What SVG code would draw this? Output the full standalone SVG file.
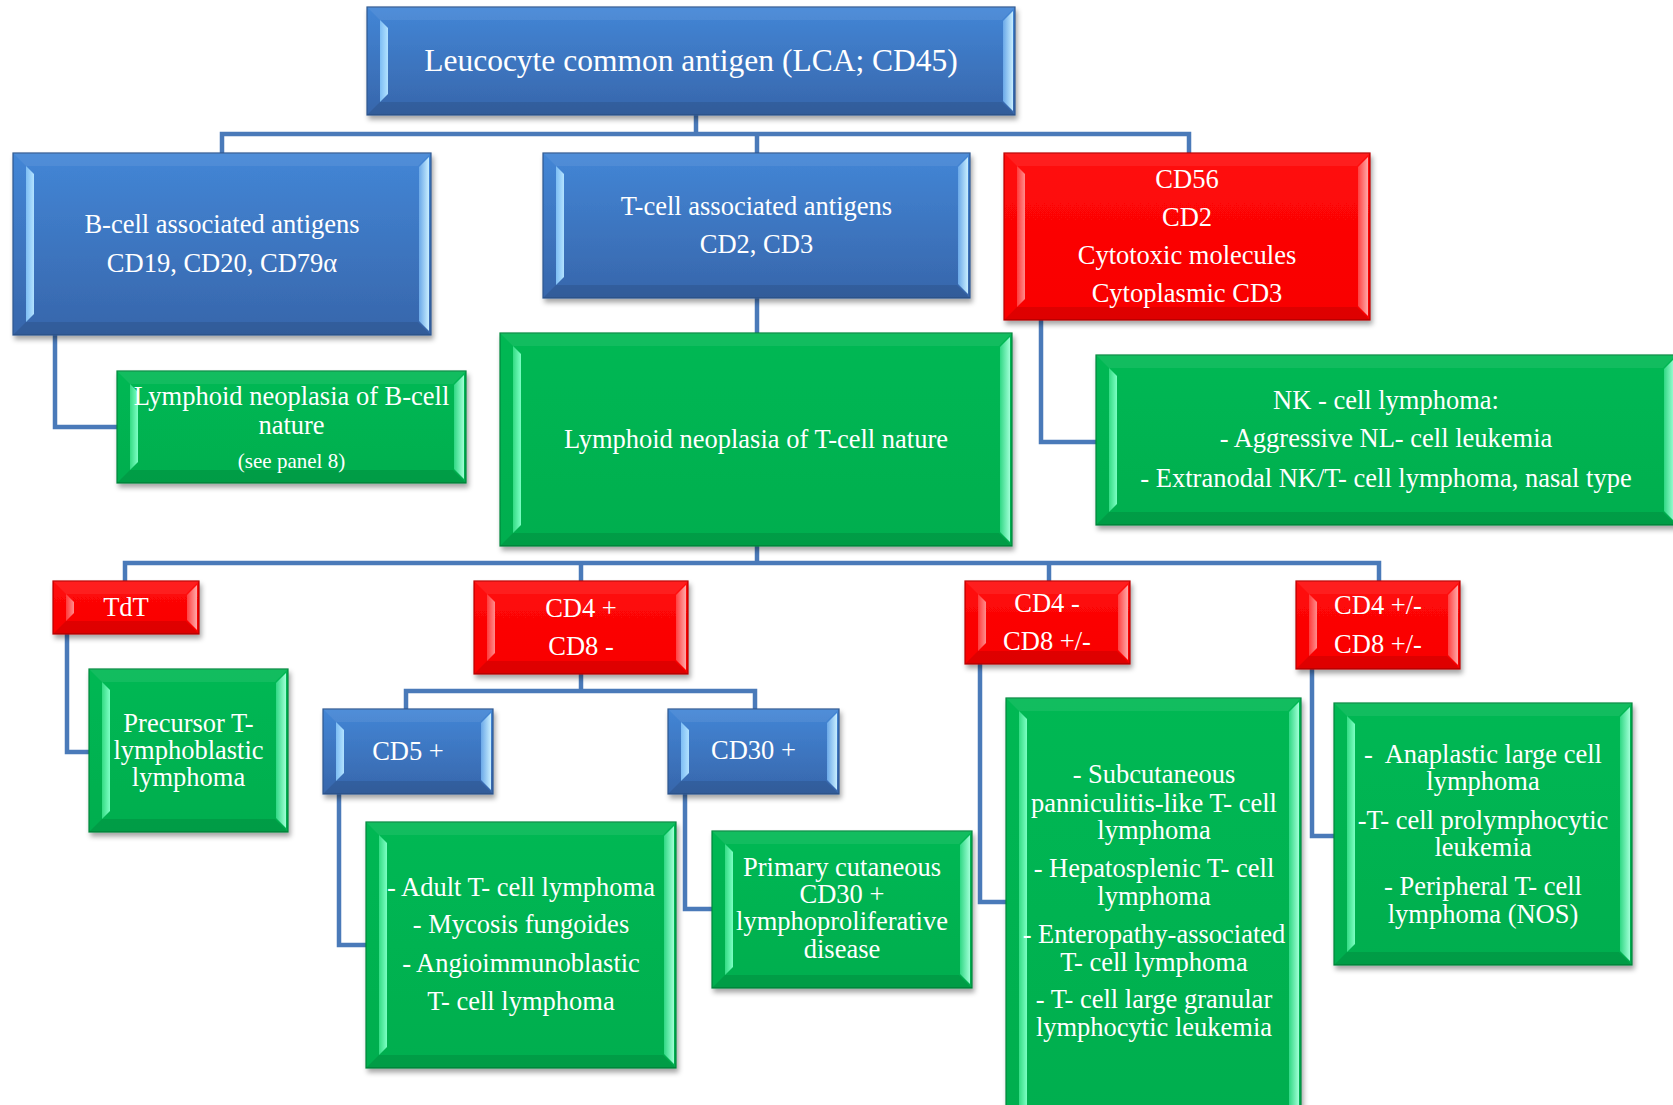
<svg xmlns="http://www.w3.org/2000/svg" width="1673" height="1105" viewBox="0 0 1673 1105">
  <defs>
    <!-- face fills -->
    <linearGradient id="bF" x1="0" y1="0" x2="0" y2="1">
      <stop offset="0" stop-color="#4386d6"/>
      <stop offset="1" stop-color="#3766ab"/>
    </linearGradient>
    <linearGradient id="gF" x1="0" y1="0" x2="0" y2="1">
      <stop offset="0" stop-color="#00b853"/>
      <stop offset="1" stop-color="#00ae4f"/>
    </linearGradient>
    <linearGradient id="rF" x1="0" y1="0" x2="0" y2="1">
      <stop offset="0" stop-color="#ff0a0a"/>
      <stop offset="1" stop-color="#f80000"/>
    </linearGradient>
    <!-- bevel highlight strips -->
    <linearGradient id="bL" x1="0" y1="0" x2="1" y2="0">
      <stop offset="0" stop-color="#7dbdf4"/>
      <stop offset="1" stop-color="#b2e2ff"/>
    </linearGradient>
    <linearGradient id="bR" x1="0" y1="0" x2="1" y2="0">
      <stop offset="0" stop-color="#6aa8e8"/>
      <stop offset="1" stop-color="#c8eeff"/>
    </linearGradient>
    <linearGradient id="gL" x1="0" y1="0" x2="1" y2="0">
      <stop offset="0" stop-color="#34dc84"/>
      <stop offset="1" stop-color="#7dffc4"/>
    </linearGradient>
    <linearGradient id="gR" x1="0" y1="0" x2="1" y2="0">
      <stop offset="0" stop-color="#30d884"/>
      <stop offset="1" stop-color="#a0ffd6"/>
    </linearGradient>
    <linearGradient id="rL" x1="0" y1="0" x2="1" y2="0">
      <stop offset="0" stop-color="#ff3a3a"/>
      <stop offset="1" stop-color="#ff8c8c"/>
    </linearGradient>
    <linearGradient id="rR" x1="0" y1="0" x2="1" y2="0">
      <stop offset="0" stop-color="#ff4040"/>
      <stop offset="1" stop-color="#ffa8a8"/>
    </linearGradient>
    <filter id="sh" x="-5%" y="-5%" width="115%" height="125%">
      <feDropShadow dx="2" dy="4" stdDeviation="2.5" flood-color="#000" flood-opacity="0.35"/>
    </filter>
  </defs>
  <style>
    .face{stroke-width:1.2;filter:url(#sh)}
    .blue .face{fill:url(#bF);stroke:#2c578f}
    .green .face{fill:url(#gF);stroke:#00863c}
    .red .face{fill:url(#rF);stroke:#b80000}
    .tb{fill:#fff;fill-opacity:.07}
    .bb{fill:#000;fill-opacity:.1}
    .blue .sl{fill:url(#bL)} .blue .sr{fill:url(#bR)}
    .green .sl{fill:url(#gL)} .green .sr{fill:url(#gR)}
    .red .sl{fill:url(#rL)} .red .sr{fill:url(#rR)}
    text{font-family:"Liberation Serif","Times New Roman",serif;fill:#fff;text-anchor:middle;font-size:26.5px}
    .tt{font-size:31.5px}
    .ts{font-size:21px}
    .links path{fill:none;stroke:#4a7ab9;stroke-width:4.5;stroke-linejoin:miter}
  </style>
  <rect width="1673" height="1105" fill="#fff"/>

  <!-- connectors -->
  <g class="links">
    <path d="M696,115 V134"/>
    <path d="M222,153 V134 H1189 V153"/>
    <path d="M757,134 V153"/>
    <path d="M55,335 V427 H117"/>
    <path d="M757,298 V333"/>
    <path d="M1041,320 V442 H1096"/>
    <path d="M757,546 V563"/>
    <path d="M125,581 V563 H1379 V581"/>
    <path d="M581,563 V581"/>
    <path d="M1049,563 V581"/>
    <path d="M67,634 V752 H89"/>
    <path d="M581,674 V691"/>
    <path d="M406,709 V691 H755 V709"/>
    <path d="M339,794 V945 H366"/>
    <path d="M685,794 V909 H712"/>
    <path d="M980,664 V902 H1006"/>
    <path d="M1312,669 V836 H1334"/>
  </g>

  <!-- root -->
  <g id="n-lca" class="blue">
    <rect class="face" x="367" y="7" width="648" height="108"/>
    <polygon class="tb" points="367,7 1015,7 1002,20 380,20"/>
    <polygon class="bb" points="367,115 1015,115 1002,102 380,102"/>
    <polygon class="sl" points="380,20 388,28 388,94 380,102"/>
    <polygon class="sr" points="1003,21 1013,11 1013,111 1003,101"/>
    <text class="tt" x="691" y="71">Leucocyte common antigen (LCA; CD45)</text>
  </g>

  <g id="n-bcell" class="blue">
    <rect class="face" x="13" y="153" width="418" height="182"/>
    <polygon class="tb" points="13,153 431,153 418,166 26,166"/>
    <polygon class="bb" points="13,335 431,335 418,322 26,322"/>
    <polygon class="sl" points="26,166 34,174 34,314 26,322"/>
    <polygon class="sr" points="419,167 429,157 429,331 419,321"/>
    <text x="222" y="233">B-cell associated antigens</text>
    <text x="222" y="272">CD19, CD20, CD79α</text>
  </g>

  <g id="n-tcell" class="blue">
    <rect class="face" x="543" y="153" width="427" height="145"/>
    <polygon class="tb" points="543,153 970,153 957,166 556,166"/>
    <polygon class="bb" points="543,298 970,298 957,285 556,285"/>
    <polygon class="sl" points="556,166 564,174 564,277 556,285"/>
    <polygon class="sr" points="958,167 968,157 968,294 958,284"/>
    <text x="756.5" y="215">T-cell associated antigens</text>
    <text x="756.5" y="253">CD2, CD3</text>
  </g>

  <g id="n-nkmark" class="red">
    <rect class="face" x="1004" y="153" width="366" height="167"/>
    <polygon class="tb" points="1004,153 1370,153 1357,166 1017,166"/>
    <polygon class="bb" points="1004,320 1370,320 1357,307 1017,307"/>
    <polygon class="sl" points="1017,166 1025,174 1025,299 1017,307"/>
    <polygon class="sr" points="1358,167 1368,157 1368,316 1358,306"/>
    <text x="1187" y="188">CD56</text>
    <text x="1187" y="226">CD2</text>
    <text x="1187" y="264">Cytotoxic molecules</text>
    <text x="1187" y="302">Cytoplasmic CD3</text>
  </g>

  <g id="n-bneo" class="green">
    <rect class="face" x="117" y="371" width="349" height="112"/>
    <polygon class="tb" points="117,371 466,371 453,384 130,384"/>
    <polygon class="bb" points="117,483 466,483 453,470 130,470"/>
    <polygon class="sl" points="130,384 138,392 138,462 130,470"/>
    <polygon class="sr" points="454,385 464,375 464,479 454,469"/>
    <text x="291.5" y="405">Lymphoid neoplasia of B-cell</text>
    <text x="291.5" y="434">nature</text>
    <text class="ts" x="291.5" y="468">(see panel 8)</text>
  </g>

  <g id="n-tneo" class="green">
    <rect class="face" x="500" y="333" width="512" height="213"/>
    <polygon class="tb" points="500,333 1012,333 999,346 513,346"/>
    <polygon class="bb" points="500,546 1012,546 999,533 513,533"/>
    <polygon class="sl" points="513,346 521,354 521,525 513,533"/>
    <polygon class="sr" points="1000,347 1010,337 1010,542 1000,532"/>
    <text x="756" y="448">Lymphoid neoplasia of T-cell nature</text>
  </g>

  <g id="n-nk" class="green">
    <rect class="face" x="1096" y="355" width="580" height="170"/>
    <polygon class="tb" points="1096,355 1676,355 1663,368 1109,368"/>
    <polygon class="bb" points="1096,525 1676,525 1663,512 1109,512"/>
    <polygon class="sl" points="1109,368 1117,376 1117,504 1109,512"/>
    <polygon class="sr" points="1664,369 1674,359 1674,521 1664,511"/>
    <text x="1386" y="409">NK - cell lymphoma:</text>
    <text x="1386" y="447">- Aggressive NL- cell leukemia</text>
    <text x="1386" y="487">- Extranodal NK/T- cell lymphoma, nasal type</text>
  </g>

  <g id="n-tdt" class="red">
    <rect class="face" x="53" y="581" width="146" height="53"/>
    <polygon class="tb" points="53,581 199,581 186,594 66,594"/>
    <polygon class="bb" points="53,634 199,634 186,621 66,621"/>
    <polygon class="sl" points="66,594 74,602 74,613 66,621"/>
    <polygon class="sr" points="187,595 197,585 197,630 187,620"/>
    <text x="126" y="616">TdT</text>
  </g>

  <g id="n-cd4p" class="red">
    <rect class="face" x="474" y="581" width="214" height="93"/>
    <polygon class="tb" points="474,581 688,581 675,594 487,594"/>
    <polygon class="bb" points="474,674 688,674 675,661 487,661"/>
    <polygon class="sl" points="487,594 495,602 495,653 487,661"/>
    <polygon class="sr" points="676,595 686,585 686,670 676,660"/>
    <text x="581" y="617">CD4 +</text>
    <text x="581" y="655">CD8 -</text>
  </g>

  <g id="n-cd4m" class="red">
    <rect class="face" x="965" y="581" width="165" height="83"/>
    <polygon class="tb" points="965,581 1130,581 1117,594 978,594"/>
    <polygon class="bb" points="965,664 1130,664 1117,651 978,651"/>
    <polygon class="sl" points="978,594 986,602 986,643 978,651"/>
    <polygon class="sr" points="1118,595 1128,585 1128,660 1118,650"/>
    <text x="1047" y="612">CD4 -</text>
    <text x="1047" y="650">CD8 +/-</text>
  </g>

  <g id="n-cd4pm" class="red">
    <rect class="face" x="1296" y="581" width="164" height="88"/>
    <polygon class="tb" points="1296,581 1460,581 1447,594 1309,594"/>
    <polygon class="bb" points="1296,669 1460,669 1447,656 1309,656"/>
    <polygon class="sl" points="1309,594 1317,602 1317,648 1309,656"/>
    <polygon class="sr" points="1448,595 1458,585 1458,665 1448,655"/>
    <text x="1378" y="614">CD4 +/-</text>
    <text x="1378" y="653">CD8 +/-</text>
  </g>

  <g id="n-precursor" class="green">
    <rect class="face" x="89" y="669" width="199" height="163"/>
    <polygon class="tb" points="89,669 288,669 275,682 102,682"/>
    <polygon class="bb" points="89,832 288,832 275,819 102,819"/>
    <polygon class="sl" points="102,682 110,690 110,811 102,819"/>
    <polygon class="sr" points="276,683 286,673 286,828 276,818"/>
    <text x="188.5" y="732">Precursor T-</text>
    <text x="188.5" y="759">lymphoblastic</text>
    <text x="188.5" y="786">lymphoma</text>
  </g>

  <g id="n-cd5" class="blue">
    <rect class="face" x="323" y="709" width="170" height="85"/>
    <polygon class="tb" points="323,709 493,709 480,722 336,722"/>
    <polygon class="bb" points="323,794 493,794 480,781 336,781"/>
    <polygon class="sl" points="336,722 344,730 344,773 336,781"/>
    <polygon class="sr" points="481,723 491,713 491,790 481,780"/>
    <text x="408" y="760">CD5 +</text>
  </g>

  <g id="n-cd30" class="blue">
    <rect class="face" x="668" y="709" width="171" height="85"/>
    <polygon class="tb" points="668,709 839,709 826,722 681,722"/>
    <polygon class="bb" points="668,794 839,794 826,781 681,781"/>
    <polygon class="sl" points="681,722 689,730 689,773 681,781"/>
    <polygon class="sr" points="827,723 837,713 837,790 827,780"/>
    <text x="753.5" y="759">CD30 +</text>
  </g>

  <g id="n-adult" class="green">
    <rect class="face" x="366" y="822" width="310" height="246"/>
    <polygon class="tb" points="366,822 676,822 663,835 379,835"/>
    <polygon class="bb" points="366,1068 676,1068 663,1055 379,1055"/>
    <polygon class="sl" points="379,835 387,843 387,1047 379,1055"/>
    <polygon class="sr" points="664,836 674,826 674,1064 664,1054"/>
    <text x="521" y="896">- Adult T- cell lymphoma</text>
    <text x="521" y="933">- Mycosis fungoides</text>
    <text x="521" y="972">- Angioimmunoblastic</text>
    <text x="521" y="1010">T- cell lymphoma</text>
  </g>

  <g id="n-primary" class="green">
    <rect class="face" x="712" y="831" width="260" height="157"/>
    <polygon class="tb" points="712,831 972,831 959,844 725,844"/>
    <polygon class="bb" points="712,988 972,988 959,975 725,975"/>
    <polygon class="sl" points="725,844 733,852 733,967 725,975"/>
    <polygon class="sr" points="960,845 970,835 970,984 960,974"/>
    <text x="842" y="876">Primary cutaneous</text>
    <text x="842" y="903">CD30 +</text>
    <text x="842" y="930">lymphoproliferative</text>
    <text x="842" y="958">disease</text>
  </g>

  <g id="n-subcut" class="green">
    <rect class="face" x="1006" y="698" width="295" height="430"/>
    <polygon class="tb" points="1006,698 1301,698 1288,711 1019,711"/>
    <polygon class="bb" points="1006,1128 1301,1128 1288,1115 1019,1115"/>
    <polygon class="sl" points="1019,711 1027,719 1027,1107 1019,1115"/>
    <polygon class="sr" points="1289,712 1299,702 1299,1124 1289,1114"/>
    <text x="1154" y="783">- Subcutaneous</text>
    <text x="1154" y="812">panniculitis-like T- cell</text>
    <text x="1154" y="839">lymphoma</text>
    <text x="1154" y="877">- Hepatosplenic T- cell</text>
    <text x="1154" y="905">lymphoma</text>
    <text x="1154" y="943">- Enteropathy-associated</text>
    <text x="1154" y="971">T- cell lymphoma</text>
    <text x="1154" y="1008">- T- cell large granular</text>
    <text x="1154" y="1036">lymphocytic leukemia</text>
  </g>

  <g id="n-anaplastic" class="green">
    <rect class="face" x="1334" y="703" width="298" height="262"/>
    <polygon class="tb" points="1334,703 1632,703 1619,716 1347,716"/>
    <polygon class="bb" points="1334,965 1632,965 1619,952 1347,952"/>
    <polygon class="sl" points="1347,716 1355,724 1355,944 1347,952"/>
    <polygon class="sr" points="1620,717 1630,707 1630,961 1620,951"/>
    <text x="1483" y="763" style="white-space:pre">-  Anaplastic large cell</text>
    <text x="1483" y="790">lymphoma</text>
    <text x="1483" y="829">-T- cell prolymphocytic</text>
    <text x="1483" y="856">leukemia</text>
    <text x="1483" y="895">- Peripheral T- cell</text>
    <text x="1483" y="923">lymphoma (NOS)</text>
  </g>
</svg>
